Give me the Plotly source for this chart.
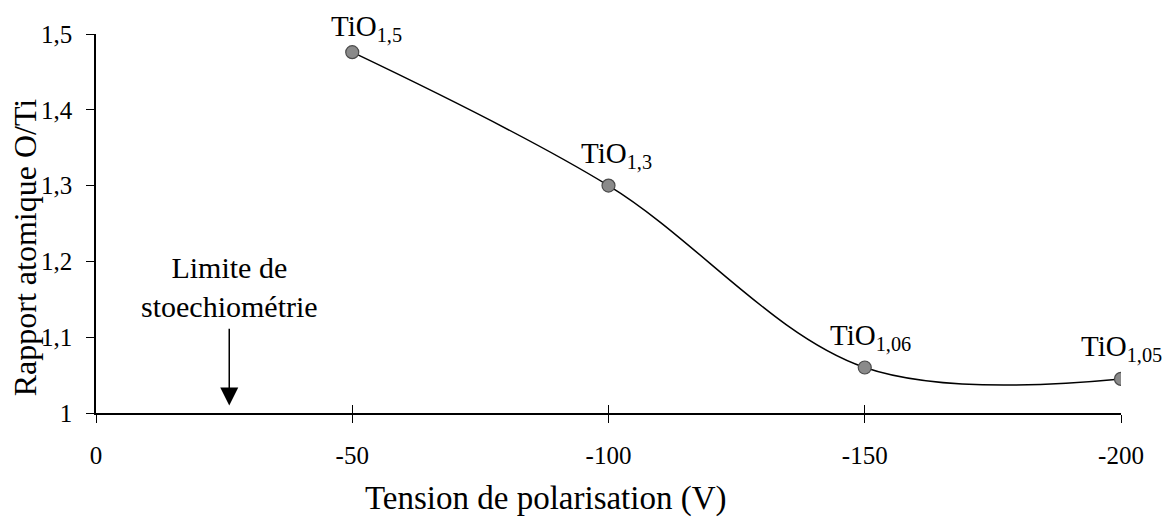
import plotly.graph_objects as go

# Tension de polarisation (V) et rapport atomique O/Ti mesuré
tension = [-50, -100, -150, -200]
rapport = [1.476, 1.30, 1.06, 1.045]
formules = ["TiO<sub>1,5</sub>", "TiO<sub>1,3</sub>", "TiO<sub>1,06</sub>", "TiO<sub>1,05</sub>"]

x_ticks = [0, -50, -100, -150, -200]
x_tick_labels = ["0", "-50", "-100", "-150", "-200"]
y_ticks = [1.0, 1.1, 1.2, 1.3, 1.4, 1.5]
y_tick_labels = ["1", "1,1", "1,2", "1,3", "1,4", "1,5"]

limite_x = -26
limite_haut = 1.113
limite_bas = 1.01

# décalages (px) des étiquettes de formule par rapport aux points
label_dx = [14, 8, 6, 0]
label_dy = [4, 11, 11, 11]

FONT = "Liberation Serif, Times New Roman, serif"

fig = go.Figure()

fig.add_trace(go.Scatter(
    x=tension, y=rapport,
    mode="lines+markers",
    line=dict(color="black", width=1.5, shape="spline", smoothing=1.0),
    marker=dict(size=13, color="#8a8a8a", line=dict(color="#4a4a4a", width=1.2)),
    showlegend=False,
    hoverinfo="skip",
))

# trace invisible portant l'axe secondaire (graduations intérieures)
fig.add_trace(go.Scatter(
    x=[x_ticks[0], x_ticks[-1]], y=[y_ticks[0], y_ticks[0]],
    xaxis="x2", mode="markers", marker=dict(opacity=0),
    showlegend=False, hoverinfo="skip",
))

annotations = []
for x, y, t, dx, dy in zip(tension, rapport, formules, label_dx, label_dy):
    annotations.append(dict(
        x=x, y=y, xref="x", yref="y", text=t, showarrow=False,
        xanchor="center", yanchor="bottom", xshift=dx, yshift=dy,
        font=dict(family=FONT, size=29, color="black"),
    ))

# Flèche de la limite de stoechiométrie
annotations.append(dict(
    x=limite_x, y=limite_bas, ax=limite_x, ay=limite_haut,
    xref="x", yref="y", axref="x", ayref="y",
    text="", showarrow=True, arrowhead=2, arrowsize=2.4, arrowwidth=1.5,
    arrowcolor="black",
))
annotations.append(dict(
    x=limite_x, y=limite_haut, xref="x", yref="y",
    text="Limite de<br>stoechiométrie", showarrow=False,
    xanchor="center", yanchor="bottom", yshift=2,
    font=dict(family=FONT, size=30, color="black"),
))

# Titres des axes
annotations.append(dict(
    x=0.439, y=0, xref="paper", yref="paper",
    text="Tension de polarisation (V)", showarrow=False,
    xanchor="center", yanchor="middle", yshift=-85,
    font=dict(family=FONT, size=33, color="black"),
))
annotations.append(dict(
    x=-0.069, y=0.438, xref="paper", yref="paper",
    text="Rapport atomique O/Ti", showarrow=False, textangle=-90,
    xanchor="center", yanchor="middle",
    font=dict(family=FONT, size=32, color="black"),
))

fig.update_layout(
    width=1166, height=520,
    margin=dict(l=96, r=45, t=34, b=107),
    paper_bgcolor="white", plot_bgcolor="white",
    font=dict(family=FONT, color="black", size=25),
    annotations=annotations,
    xaxis=dict(
        range=[0, -200], automargin=False,
        tickvals=x_ticks, ticktext=x_tick_labels,
        showgrid=False, zeroline=False,
        showline=True, linecolor="black", linewidth=1.5,
        ticks="outside", ticklen=8, tickwidth=1.3, tickcolor="black",
        ticklabelstandoff=11,
        tickfont=dict(family=FONT, size=25, color="black"),
    ),
    xaxis2=dict(
        overlaying="x", matches="x", anchor="y", side="bottom",
        automargin=False,
        tickvals=x_ticks, showticklabels=False,
        showgrid=False, zeroline=False, showline=False,
        ticks="inside", ticklen=8, tickwidth=1.3, tickcolor="black",
    ),
    yaxis=dict(
        range=[1.0, 1.5], automargin=False,
        tickvals=y_ticks, ticktext=y_tick_labels,
        showgrid=False, zeroline=False,
        showline=True, linecolor="black", linewidth=1.5,
        ticks="outside", ticklen=8, tickwidth=1.3, tickcolor="black",
        ticklabelstandoff=9,
        tickfont=dict(family=FONT, size=25, color="black"),
    ),
)

fig.write_html("out.html")
